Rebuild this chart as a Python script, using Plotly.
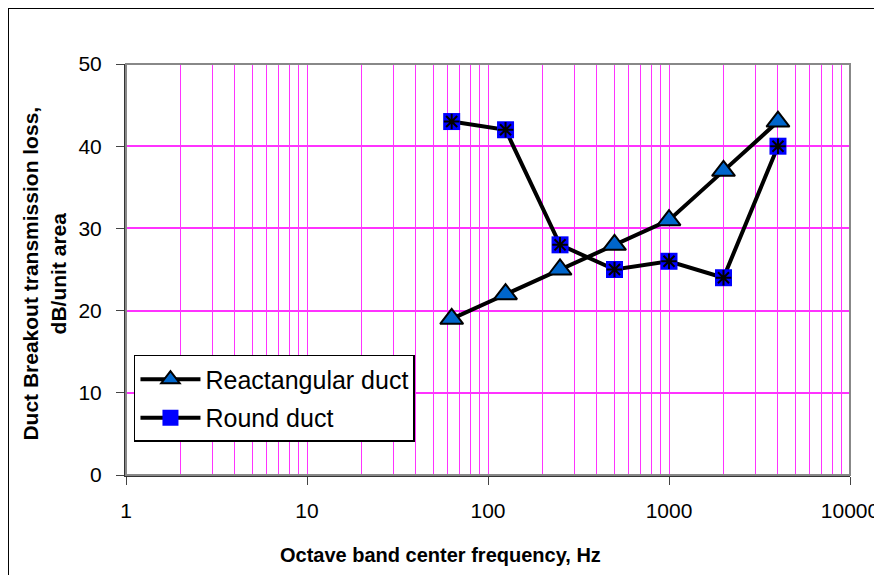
import plotly.graph_objects as go

freqs = [63, 125, 250, 500, 1000, 2000, 4000]
rect_duct = [19, 22, 25, 28, 31, 37, 43]
round_duct = [43, 42, 28, 25, 26, 24, 40]
x_tickvals = [1, 10, 100, 1000, 10000]
x_ticktext = ["1", "10", "100", "1000", "10000"]
y_tickvals = [0, 10, 20, 30, 40, 50]

fig = go.Figure()
fig.add_trace(go.Scatter(
    x=freqs, y=rect_duct, mode="lines+markers", name="Reactangular duct",
    line=dict(color="black", width=4),
    marker=dict(symbol="triangle-up", size=20, color="#0066CC",
                line=dict(color="black", width=2)),
    legendgroup="rect",
))
fig.add_trace(go.Scatter(
    x=freqs, y=round_duct, mode="lines+markers", name="Round duct",
    line=dict(color="black", width=4),
    marker=dict(symbol="square", size=17, color="#0000FF",
                line=dict(color="#0000FF", width=0)),
    legendgroup="round",
))
fig.add_trace(go.Scatter(
    x=freqs, y=round_duct, mode="markers", name="Round duct",
    marker=dict(symbol="asterisk-open", size=13, color="black",
                line=dict(color="black", width=2)),
    legendgroup="round", showlegend=False,
))

fig.update_layout(
    width=874, height=567,
    margin=dict(l=118, r=32, t=56, b=100, autoexpand=False),
    paper_bgcolor="white", plot_bgcolor="white",
    font=dict(family="Arial, Liberation Sans, sans-serif", color="black"),
    showlegend=True,
    legend=dict(x=0.011, y=0.292, xanchor="left", yanchor="top",
                bordercolor="black", borderwidth=1.5, bgcolor="white",
                font=dict(size=25), itemwidth=60, tracegroupgap=3),
    xaxis=dict(
        type="log", range=[0, 4], automargin=False,
        tickvals=x_tickvals, ticktext=x_ticktext,
        tickfont=dict(size=21), ticks="outside", ticklen=8, tickcolor="#444",
        ticklabelstandoff=8,
        showgrid=True, gridcolor="#FF33FF", gridwidth=1,
        minor=dict(dtick="D1", showgrid=True, gridcolor="#FF33FF", gridwidth=1, ticks=""),
        showline=True, linecolor="#333", linewidth=2, mirror=False,
        zeroline=False,
    ),
    yaxis=dict(
        range=[0, 50], tickvals=y_tickvals, automargin=False,
        tickfont=dict(size=21), ticks="outside", ticklen=8, tickcolor="#444",
        ticklabelstandoff=10,
        showgrid=True, gridcolor="#FF33FF", gridwidth=1.5,
        showline=True, linecolor="#333", linewidth=2,
        zeroline=False,
    ),
    annotations=[
        dict(text="<b>Octave band center frequency, Hz</b>", xref="paper", yref="paper",
             x=(440 - 126) / 724, y=-(555 - 475) / 411, xanchor="center", yanchor="middle",
             showarrow=False, font=dict(size=20)),
        dict(text="<b>Duct Breakout transmission loss,<br>dB/unit area</b>", xref="paper", yref="paper",
             x=-(126 - 44) / 724, y=0.49, xanchor="center", yanchor="middle", textangle=-90,
             showarrow=False, font=dict(size=21)),
    ],
    shapes=[
        dict(type="rect", xref="paper", yref="paper", x0=0, x1=1, y0=0, y1=1,
             line=dict(color="#888", width=2), layer="above"),
        dict(type="rect", xref="paper", yref="paper", x0=-0.163, x1=1.06, y0=-0.3, y1=1.136,
             line=dict(color="black", width=2)),
    ],
)
fig.write_html("out.html")
